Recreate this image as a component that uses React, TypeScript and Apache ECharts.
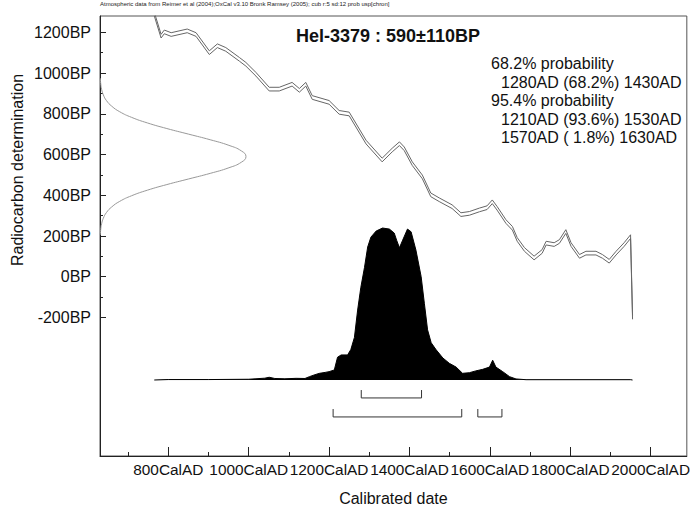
import React, { useEffect, useRef } from "react";
import * as echarts from "echarts";

// Calibration curve (IntCal04), centre values
const calYear = [765, 782, 790, 807, 847, 869, 902, 922, 943, 977, 993, 1018, 1051, 1076, 1108, 1126, 1142, 1158, 1200, 1225, 1250, 1292, 1332, 1357, 1375, 1387, 1407, 1432, 1453, 1474, 1506, 1528, 1549, 1574, 1593, 1606, 1618, 1640, 1656, 1668, 1686, 1710, 1730, 1740, 1760, 1773, 1789, 1802, 1823, 1839, 1864, 1880, 1897, 1914, 1934, 1950, 1955];
const calBP = [1290, 1181, 1202, 1189, 1207, 1189, 1100, 1134, 1116, 1067, 1043, 994, 921, 921, 945, 915, 945, 880, 856, 807, 799, 661, 573, 622, 653, 628, 555, 490, 402, 378, 344, 305, 311, 328, 339, 368, 336, 271, 238, 183, 134, 92, 124, 165, 158, 173, 222, 158, 100, 116, 116, 100, 76, 116, 158, 197, -200];
const calSigma = 9;

// Radiocarbon measurement 590±110BP (relative density along BP axis)
const gaussBP = [205, 232.5, 260, 287.5, 315, 342.5, 370, 397.5, 425, 452.5, 480, 507.5, 535, 562.5, 590, 617.5, 645, 672.5, 700, 727.5, 755, 782.5, 810, 837.5, 865, 892.5, 920, 947.5, 975];
const gaussDensity = [0.002, 0.005, 0.011, 0.023, 0.044, 0.08, 0.135, 0.216, 0.325, 0.458, 0.607, 0.755, 0.883, 0.969, 1, 0.969, 0.883, 0.755, 0.607, 0.458, 0.325, 0.216, 0.135, 0.08, 0.044, 0.023, 0.011, 0.005, 0.002];

// Calibrated probability distribution (relative)
const probYear = [765, 800, 900, 1000, 1040, 1051, 1065, 1090, 1118, 1140, 1151, 1165, 1176, 1190, 1200, 1213, 1221, 1230, 1246, 1254, 1263, 1271, 1279, 1288, 1296, 1304, 1317, 1333, 1350, 1362, 1368, 1375, 1383, 1395, 1404, 1416, 1429, 1437, 1445, 1454, 1466, 1483, 1499, 1516, 1532, 1549, 1565, 1582, 1599, 1607, 1615, 1632, 1649, 1665, 1690, 1950, 1955];
const probValue = [0, 0.003, 0.003, 0.005, 0.012, 0.018, 0.01, 0.008, 0.011, 0.01, 0.022, 0.035, 0.044, 0.05, 0.055, 0.066, 0.15, 0.165, 0.165, 0.2, 0.28, 0.46, 0.61, 0.74, 0.875, 0.94, 0.98, 1.0, 0.993, 0.967, 0.92, 0.87, 0.92, 0.993, 0.975, 0.855, 0.68, 0.505, 0.33, 0.245, 0.2, 0.145, 0.11, 0.085, 0.044, 0.048, 0.06, 0.07, 0.085, 0.13, 0.085, 0.055, 0.022, 0.007, 0.002, 0.002, 0];

// Ranges
const range68 = [[1280, 1430]];
const range95 = [[1210, 1530], [1570, 1630]];

// Tick values
const xMajor = [800, 1000, 1200, 1400, 1600, 1800, 2000];
const xMinor = [700, 900, 1100, 1300, 1500, 1700, 1900];
const yMajor = [-200, 0, 200, 400, 600, 800, 1000, 1200];
const yMinor = [-100, 100, 300, 500, 700, 900, 1100];

const titleText = "Hel-3379 : 590\u00b1110BP";
const noteText = "Atmospheric data from Reimer et al (2004);OxCal v3.10 Bronk Ramsey (2005); cub r:5 sd:12 prob usp[chron]";
const infoLines = [
  "68.2% probability",
  "1280AD (68.2%) 1430AD",
  "95.4% probability",
  "1210AD (93.6%) 1530AD",
  "1570AD ( 1.8%) 1630AD",
];
const infoIndent = [false, true, false, true, true];

const FONT = "'Liberation Sans', Arial, sans-serif";

export default function App() {
  const ref = useRef<HTMLDivElement>(null);
  useEffect(() => {
    document.body.style.margin = "0";
    const chart = echarts.init(ref.current!, null, { renderer: "svg" });

    const upper = calYear.map((y, i) => [y, calBP[i] + calSigma]);
    const lower = calYear.map((y, i) => [y, calBP[i] - calSigma]);
    const gauss = gaussBP.map((b, i) => [gaussDensity[i], b]);
    const prob = probYear.map((y, i) => [y, probValue[i]]);

    const bracket = (r: number[], top: number, bottom: number) => [
      [r[0], top],
      [r[0], bottom],
      [r[1], bottom],
      [r[1], top],
    ];
    const bracketSeries: any[] = [];
    range68.forEach((r) =>
      bracketSeries.push({
        type: "line", xAxisIndex: 0, yAxisIndex: 2, data: bracket(r, -0.066, -0.118),
        symbol: "none", lineStyle: { color: "#333", width: 1 }, silent: true,
      })
    );
    range95.forEach((r) =>
      bracketSeries.push({
        type: "line", xAxisIndex: 0, yAxisIndex: 2, data: bracket(r, -0.191, -0.243),
        symbol: "none", lineStyle: { color: "#333", width: 1 }, silent: true,
      })
    );

    const axisCol = "#222";
    chart.setOption({
      animation: false,
      grid: { left: 100, right: 6, top: 16, bottom: 57, show: true, borderColor: "#555", borderWidth: 1 },
      xAxis: [
        {
          type: "value", min: 630, max: 2090, position: "bottom",
          axisLine: { show: true, onZero: false, lineStyle: { color: axisCol } },
          axisTick: { show: true, inside: true, length: 9, customValues: xMajor, lineStyle: { color: axisCol } },
          axisLabel: {
            show: true, customValues: xMajor, formatter: (v: number) => v + "CalAD",
            fontSize: 15.4, color: "#111", fontFamily: FONT, margin: 6,
            hideOverlap: false,
          },
          splitLine: { show: false },
          name: "Calibrated date", nameLocation: "middle", nameGap: 34,
          nameTextStyle: { fontSize: 16, color: "#111", fontFamily: FONT },
        },
        {
          type: "value", min: 630, max: 2090, position: "bottom",
          axisLine: { show: false, onZero: false },
          axisTick: { show: true, inside: true, length: 4, customValues: xMinor, lineStyle: { color: axisCol } },
          axisLabel: { show: false },
          splitLine: { show: false },
        },
        {
          type: "value", min: 0, max: 4.02, show: false, splitLine: { show: false },
          axisLine: { onZero: false },
        },
      ],
      yAxis: [
        {
          type: "value", min: -880, max: 1280, position: "left",
          axisLine: { show: true, onZero: false, lineStyle: { color: axisCol } },
          axisTick: { show: true, inside: true, length: 6, customValues: yMajor, lineStyle: { color: axisCol } },
          axisLabel: {
            show: true, customValues: yMajor, formatter: (v: number) => v + "BP",
            fontSize: 16, color: "#111", fontFamily: FONT, margin: 9,
          },
          splitLine: { show: false },
        },
        {
          type: "value", min: -880, max: 1280, position: "left",
          axisLine: { show: false, onZero: false },
          axisTick: { show: true, inside: true, length: 3, customValues: yMinor, lineStyle: { color: axisCol } },
          axisLabel: { show: false },
          splitLine: { show: false },
        },
        {
          type: "value", min: -0.5, max: 2.395, show: false, splitLine: { show: false },
          axisLine: { onZero: false },
        },
      ],
      graphic: [
        {
          type: "text", x: 100, y: 1,
          style: { text: noteText, fontSize: 6, fill: "#222", fontFamily: FONT },
        },
        {
          type: "text", x: 296, y: 36,
          style: { text: titleText, fontSize: 18, fontWeight: "bold", fill: "#111", fontFamily: FONT, textVerticalAlign: "middle" },
        },
        ...infoLines.map((t, i) => ({
          type: "text",
          x: infoIndent[i] ? 501 : 491,
          y: [63, 82, 100, 119, 137][i],
          style: { text: t, fontSize: 16, fill: "#111", fontFamily: FONT, textVerticalAlign: "middle" },
        })),
        {
          type: "text", x: 17, y: 170, rotation: Math.PI / 2,
          style: {
            text: "Radiocarbon determination", fontSize: 16, fill: "#111", fontFamily: FONT,
            textAlign: "center", textVerticalAlign: "middle",
          },
        },
      ],
      series: [
        {
          type: "line", xAxisIndex: 0, yAxisIndex: 2, data: prob, symbol: "none",
          lineStyle: { color: "#000", width: 1 }, areaStyle: { color: "#000", opacity: 1 }, silent: true,
        },
        {
          type: "line", xAxisIndex: 0, yAxisIndex: 0, data: upper, symbol: "none",
          lineStyle: { color: "#666", width: 1 }, silent: true,
        },
        {
          type: "line", xAxisIndex: 0, yAxisIndex: 0, data: lower, symbol: "none",
          lineStyle: { color: "#666", width: 1 }, silent: true,
        },
        {
          type: "line", xAxisIndex: 2, yAxisIndex: 0, data: gauss, symbol: "none", smooth: true,
          lineStyle: { color: "#999", width: 1 }, silent: true,
        },
        ...bracketSeries,
      ],
    });
    return () => chart.dispose();
  }, []);
  return <div ref={ref} style={{ width: 693, height: 513, position: "absolute", left: 0, top: 0 }} />;
}
